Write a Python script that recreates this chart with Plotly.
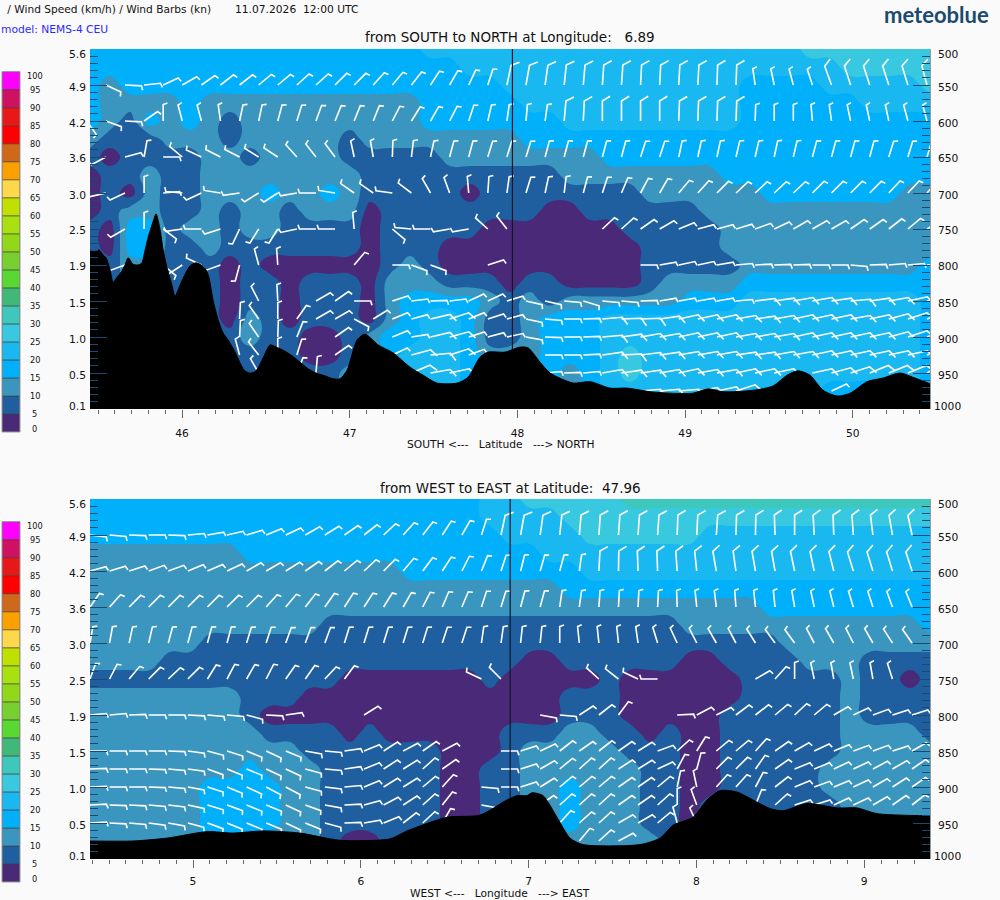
import numpy as np
import plotly.graph_objects as go

N = None

# ---- scale ----
speed_levels = list(range(0, 100, 5))
speed_colors = ["#4a2a78", "#1f5f9f", "#3a96be", "#00b0fa", "#1ab8f0", "#38c8e0", "#3ec8bc",
                "#40b878", "#58d830", "#78d030", "#90d818", "#a8e010", "#c0e000", "#fcd84a",
                "#fca000", "#d0681a", "#ff0000", "#e81818", "#d01060", "#ff00ff"]
scale_labels = list(range(0, 105, 5))
hpa_labels = list(range(500, 1050, 50))
km_labels = ["5.6", "4.9", "4.2", "3.6", "3.0", "2.5", "1.9", "1.5", "1.0", "0.5", "0.1"]

# ---- wind speed bands (5 km/h classes), one string per 25 hPa from 500 to 1000 ----
bands_ns = [
    "3333333333 3333333444 4444444444 4444445555 555",
    "3333333333 3333333334 4444444444 4444444455 555",
    "3233333333 3333333333 3444444444 4443333444 445",
    "3222232222 2222222333 3344444444 4443333334 444",
    "3213232122 2222222333 3333444444 4443333333 333",
    "2111222122 2221222222 2233333333 3333333333 333",
    "1011112212 2221111122 2222223333 3333333333 333",
    "0112112222 2222111111 1111222222 2233333333 333",
    "0102112223 2232111110 1111111122 2222333333 322",
    "0122112122 1222011111 1110011111 1222222222 222",
    "1033122122 1111011111 0000000111 1122222222 222",
    "1033112111 1111011100 0000000011 1122222222 222",
    "1122111010 0000012100 0000000011 1112222222 223",
    "1122111011 0111022211 1011000012 2223333333 333",
    "1122111011 0111023333 2121222222 3334444444 443",
    "1122111021 0111023443 1123334444 4444444444 443",
    "1122111121 1001233443 1123334444 4444444444 443",
    "1122111111 1001234443 2223334544 4444444444 443",
    "1122111111 1112344443 3333234544 4444444444 443",
    "1122111111 1112344443 3333234444 4444444333 443",
    "1122111111 1112344443 3333234444 4444444333 443",
]
bands_we = [
    "3333333333 3333333333 4455555666 6666666666 666",
    "3333333333 3333333333 4444555555 5555555555 555",
    "3333333333 3333333333 3444455555 5444444444 444",
    "2222222233 3333333333 3334444444 4444444444 444",
    "2222222222 2222223333 3333344444 4444444444 444",
    "2222222222 2222222222 2222333333 3333333333 333",
    "2222222222 2222222222 2222222222 2222333333 333",
    "2222222222 2211111111 1111111111 2222222222 223",
    "2222221111 1111111111 1111111111 1111122222 222",
    "2222111111 1111111111 1100111111 0011112221 111",
    "1111111111 1110000000 1000001000 0001111121 101",
    "2222222211 1000000000 0000111000 0001111121 111",
    "2222222210 0000000000 0000111000 0011111121 111",
    "2222222221 1110100000 0111221101 0011111122 221",
    "2222222222 2111111100 0122222111 0011111122 222",
    "2222222232 2211111100 1122222211 0011111222 222",
    "2222223333 2211111100 1122322211 0011111222 222",
    "2222223333 2211111100 1122322211 0111111122 222",
    "2222223333 2211111100 1122322211 0111111122 222",
    "2222223332 2210010100 1122222221 1111111122 222",
    "2222223332 2210010100 1122222221 1111111122 222",
]

# ---- terrain surface along each section ----
terrain_lat = [45.451, 45.475, 45.505, 45.529, 45.547, 45.571, 45.589, 45.612, 45.636, 45.660, 45.678,
               45.708, 45.738, 45.761, 45.773, 45.797, 45.827, 45.845, 45.869, 45.887, 45.911, 45.940,
               45.958, 45.988, 46.024, 46.048, 46.083, 46.107, 46.143, 46.161, 46.185, 46.215, 46.244,
               46.274, 46.310, 46.346, 46.370, 46.400, 46.429, 46.453, 46.483, 46.525, 46.561, 46.608,
               46.656, 46.704, 46.751, 46.799, 46.853, 46.900, 46.942, 46.984, 47.044, 47.091, 47.169,
               47.258, 47.360, 47.437, 47.521, 47.640, 47.705, 47.777, 47.825, 47.926, 48.016, 48.063,
               48.135, 48.195, 48.332, 48.433, 48.552, 48.654, 48.791, 48.910, 49.047, 49.137, 49.226,
               49.405, 49.524, 49.608, 49.673, 49.745, 49.822, 49.906, 49.984, 50.085, 50.180, 50.281,
               50.359, 50.460]
terrain_lat_hpa = [779, 782, 779, 786, 790, 807, 824, 817, 810, 800, 790,
                   799, 800, 797, 786, 762, 740, 729, 751, 779, 804, 828,
                   843, 828, 810, 801, 797, 799, 807, 818, 849, 876, 894,
                   904, 918, 936, 946, 950, 949, 943, 929, 911, 914, 919,
                   926, 935, 944, 950, 954, 958, 958, 946, 904, 896, 911,
                   922, 942, 953, 964, 964, 956, 928, 921, 921, 914, 915,
                   935, 950, 964, 962, 971, 971, 976, 978, 978, 972, 976,
                   974, 968, 953, 947, 953, 974, 982, 978, 962, 957, 950,
                   956, 965]
terrain_lon = [4.386, 4.642, 4.845, 5.083, 5.238, 5.417, 5.638, 5.876, 6.174, 6.275, 6.514, 6.710,
               6.871, 6.931, 6.990, 7.020, 7.086, 7.169, 7.247, 7.324, 7.664, 7.783, 7.861, 7.980,
               8.063, 8.141, 8.242, 8.337, 8.439, 8.516, 8.659, 8.838, 8.957, 9.076, 9.392]
terrain_lon_hpa = [975, 975, 971, 962, 964, 961, 964, 974, 972, 961, 942, 939,
                   918, 912, 912, 908, 912, 942, 971, 980, 980, 971, 953, 942,
                   918, 905, 907, 918, 930, 933, 923, 929, 929, 937, 940]

# ---- wind direction per column: degrees clockwise from north along the staff ----
barb_levels = [550, 600, 650, 700, 750, 800, 850, 875, 900, 925, 950, 975]

ns_550 = [N,115,93,84,65,60,55,52,52,50,50,48,48,45, 45,42,40,38,33,30,25,18,12,10,8,6,5,4,4,3,3,
          3,3,2,2,-8,-12,-15,-18,-20,-18,-18,-18,-17,-15]
ns_600 = [145,110,93,55,0,-15,-15,-8,12,12,15,17,20,22, 22,22,27,32,30,27,18,13,8,5,8,5,3,0,0,0,0,
          2,2,2,2,2,0,0,-5,-8,-12,-12,-12,-15,-15]
ns_650 = [N,-118,75,10,90,-50,-65,-63,-63,-58,-57,-42,-38,-37, -12,-10,2,7,12,15,15,17,17,17,15,15,15,15,15,18,18,
          12,12,12,13,13,12,13,15,15,15,15,17,17,17]
ns_700 = [N,-103,-115,0,85,-85,-115,-81,-98,-122,-123,-100,-90,-81, -55,-55,-82,-53,-30,-20,-5,4,8,17,12,7,15,18,23,28,30,
          40,42,45,47,47,47,47,45,45,45,45,43,43,42]
ns_750 = [N,N,-120,0,127,-98,-90,-108,205,212,212,-102,-90,-90, -5,N,130,-85,-90,-100,-100,-48,-38,N,N,N,N,47,48,55,60,
          68,75,75,73,70,65,60,60,60,55,55,52,50,60]
ns_800 = [N,N,-110,N,130,-123,-65,-110,195,-15,-4,N,N,N, 40,N,90,110,110,N,N,72,N,N,N,N,N,N,N,90,80,
          78,78,80,85,87,88,88,90,90,95,88,85,85,85]
ns_850 = [N,N,N,N,N,N,N,N,N,-27,-3,N,60,55, 90,N,72,83,88,83,65,65,73,103,103,95,107,95,95,88,80,
          80,80,80,85,83,82,80,80,82,85,82,80,78,75]
ns_875 = [N,N,N,N,N,N,N,N,3,-35,0,35,60,60, 118,58,68,75,77,72,68,72,75,102,95,90,88,85,88,88,82,
          78,78,78,80,82,80,78,78,78,80,78,75,72,70]
ns_900 = [N,N,N,N,N,N,N,N,3,-35,2,22,N,55, N,N,68,81,77,75,72,75,78,100,92,90,88,85,82,80,80,
          78,78,78,80,80,80,78,78,78,78,78,75,72,70]
ns_925 = [N,N,N,N,N,N,N,N,-15,-38,0,17,N,55, N,N,65,75,85,72,70,N,N,N,90,90,87,82,87,83,82,
          80,80,80,82,82,80,80,78,78,78,78,78,78,72]
ns_950 = [N,N,N,N,N,N,N,N,N,-30,N,22,5,N, N,N,N,67,80,78,N,N,N,N,85,88,85,80,82,82,80,
          78,80,80,78,78,78,N,78,75,72,68,68,68,60]
ns_975 = [N,N,N,N,N,N,N,N,N,N,N,N,N,N, N,N,N,N,N,N,N,N,N,N,N,N,N,N,N,85,85,
          85,80,78,72,N,N,N,N,65,N,N,N,N,N]
ns_dirs = [ns_550, ns_600, ns_650, ns_700, ns_750, ns_800, ns_850, ns_875, ns_900, ns_925, ns_950, ns_975]

we_550 = [97,95,92,90,92,85,80,77,73,68,65,60,58, 55,52,47,42,38,33,30,18,12,10,8,6,5,4,4,4,4,
          2,3,4,2,1,-2,0,-3,-2,-4,-7,-10,-12]
we_600 = [75,73,72,70,70,68,67,65,60,60,58,55,52, 50,47,45,40,37,33,27,22,18,14,16,15,8,3,1,-2,-2,
          -4,-6,-10,-8,-10,-10,-12,-12,-14,-17,-17,-17,-18]
we_650 = [35,42,45,45,45,45,45,45,45,42,40,38,35, 33,33,32,30,27,23,23,18,17,15,15,8,8,4,3,3,3,
          -2,-6,-7,-4,-6,-6,-10,-12,-14,-17,-18,-20,-22]
we_700 = [10,10,12,13,15,15,15,15,17,18,20,20,20, 17,17,17,17,17,18,18,8,8,6,6,0,-6,-6,-6,-8,-17,
          -25,-27,-30,-28,-32,-36,-36,-28,-30,-27,-30,-33,-35]
we_750 = [20,27,40,45,47,45,32,28,30,27,35,35,43, 37,N,N,N,N,N,N,-65,-45,N,N,N,N,-48,-52,-65,-90,
          N,N,N,N,60,42,0,-12,-10,-12,-10,-18,N]
we_800 = [85,85,88,90,90,93,95,95,105,93,82,N,N, N,58,N,N,N,N,N,N,N,N,100,95,57,52,37,N,N,
          87,62,63,53,52,50,47,50,60,65,70,72,72]
we_850 = [90,90,90,90,92,98,105,108,112,115,112,100,95, 82,68,57,62,55,62,N,N,90,72,65,52,55,52,55,58,70,
          48,32,50,50,42,55,60,65,68,70,70,72,60]
we_875 = [88,90,90,92,95,98,110,112,112,115,115,105,95, 82,68,57,58,48,55,N,N,90,72,60,50,48,48,57,58,65,
          28,15,45,45,35,55,68,68,65,65,62,60,55]
we_900 = [88,90,90,92,95,100,108,112,115,118,118,105,97, 85,68,58,58,50,42,N,95,90,72,58,50,50,50,55,55,50,
          12,-12,42,42,28,52,68,70,68,65,60,57,55]
we_925 = [87,92,93,95,97,102,107,110,112,112,115,110,100, 87,75,62,57,48,38,N,100,N,N,55,48,48,48,55,55,48,
          0,-20,N,N,22,48,72,72,65,65,60,55,52]
we_950 = [87,93,95,98,100,105,110,112,112,112,115,112,105, 88,80,68,52,47,30,N,N,N,N,N,42,48,48,60,60,50,
          -15,-25,N,N,N,N,N,N,N,N,N,N,N]
we_975 = [N,N,N,N,N,N,N,N,N,N,N,N,N, N,N,N,N,N,N,N,N,N,N,N,N,40,48,62,N,N,
          N,N,N,N,N,N,N,N,N,N,N,N,N]
we_dirs = [we_550, we_600, we_650, we_700, we_750, we_800, we_850, we_875, we_900, we_925, we_950, we_975]

# ---- section geometry ----
lat_range = [45.451, 50.46]
lon_range = [4.386, 9.392]
hpa_range = [1000, 500]
lat_barbs = np.linspace(45.432, 50.442, 45)
lon_barbs = np.linspace(4.386, 9.285, 43)
lat_section_lon = 47.97
lon_section_lat = 6.89
PLOT_W, PLOT_H = 840.0, 360.0


def speed_grid(rows):
    digits = [r.replace(" ", "") for r in rows]
    return np.array([[5 * int(c) + 2.5 for c in r] for r in digits])


def barb_paths(columns, dirs, grid, xr, grid_x):
    """White barb staffs with one feather at the far end, sized in screen pixels."""
    kx = PLOT_W / (xr[1] - xr[0])
    kp = PLOT_H / 500.0
    xs, ys = [], []
    for level, row in zip(barb_levels, dirs):
        j = int(round((level - 500) / 25))
        for x0, ang in zip(columns, row):
            if ang is None:
                continue
            i = int(np.argmin(np.abs(grid_x - x0)))
            fast = grid[j, i] >= 20
            staff, feather, turn = (20, 9, 58) if fast else (16.5, 4.5, 72)
            t = np.radians(ang)
            tx, ty = x0 + staff * np.sin(t) / kx, level - staff * np.cos(t) / kp
            f = np.radians(ang + turn)
            fx, fy = tx + feather * np.sin(f) / kx, ty - feather * np.cos(f) / kp
            xs += [x0, tx, fx, None]
            ys += [level, ty, fy, None]
    return xs, ys


colorscale = []
for n, c in enumerate(speed_colors):
    colorscale += [[n / 20, c], [(n + 1) / 20, c]]

fig = go.Figure()
hpa_grid = np.arange(500, 1025, 25)


def add_section(xa, ya, rows, dirs, columns, xr, tx, tp, cut):
    grid = speed_grid(rows)
    gx = np.linspace(xr[0], xr[1], grid.shape[1])
    fig.add_trace(go.Contour(x=gx, y=hpa_grid, z=grid, xaxis=xa, yaxis=ya, colorscale=colorscale,
                             zmin=0, zmax=100, showscale=False, hoverinfo="skip",
                             contours=dict(start=0, end=100, size=5, coloring="fill", showlines=False),
                             line=dict(width=0, smoothing=1.3)))
    bx, by = barb_paths(columns, dirs, grid, xr, gx)
    fig.add_trace(go.Scatter(x=bx, y=by, xaxis=xa, yaxis=ya, mode="lines", hoverinfo="skip",
                             line=dict(color="white", width=1.6)))
    fig.add_trace(go.Scatter(x=[cut, cut], y=[500, 1000], xaxis=xa, yaxis=ya, mode="lines",
                             hoverinfo="skip", line=dict(color="#101828", width=1.2)))
    fig.add_trace(go.Scatter(x=[tx[0], tx[-1]], y=[1000, 1000], xaxis=xa, yaxis=ya, mode="lines",
                             hoverinfo="skip", line=dict(color="black", width=0)))
    fig.add_trace(go.Scatter(x=tx, y=tp, xaxis=xa, yaxis=ya, mode="lines", fill="tonexty",
                             fillcolor="black", hoverinfo="skip",
                             line=dict(color="black", width=1, shape="spline", smoothing=0.7)))


def add_scale(xa, ya):
    fig.add_trace(go.Bar(x=[0] * 20, y=[5] * 20, base=speed_levels, width=1, xaxis=xa, yaxis=ya,
                         marker=dict(color=speed_colors, line=dict(color="#3c3c3c", width=0.6)),
                         hoverinfo="skip"))


add_section("x", "y", bands_ns, ns_dirs, lat_barbs, lat_range, terrain_lat, terrain_lat_hpa, lat_section_lon)
add_section("x2", "y2", bands_we, we_dirs, lon_barbs, lon_range, terrain_lon, terrain_lon_hpa, lon_section_lat)
add_scale("x3", "y3")
add_scale("x4", "y4")


def px_x(px):
    return px / 1000.0


def px_y(py):
    return 1 - py / 900.0


TICK = "#1b4a70"
AX = "#666666"


def press_axis(top, anchor):
    return dict(domain=[px_y(top + 360), px_y(top)], range=hpa_range, anchor=anchor, showgrid=False,
                zeroline=False, showline=False, showticklabels=False, ticks="inside", ticklen=17,
                tickcolor=TICK, tickwidth=1, tickmode="array", tickvals=hpa_labels, mirror="ticks",
                minor=dict(ticks="inside", ticklen=8, tickcolor=TICK, tickwidth=1, dtick=10, tick0=500))


def dist_axis(rng, anchor, ticks, standoff):
    return dict(domain=[px_x(90), px_x(930)], range=rng, anchor=anchor, showgrid=False, zeroline=False,
                showline=False, tickmode="array", tickvals=ticks, ticks="outside", ticklen=8,
                tickcolor=AX, tickwidth=1, ticklabelstandoff=standoff,
                tickfont=dict(family="DejaVu Sans", size=10.7, color="#111111"),
                minor=dict(ticks="outside", ticklen=4, tickcolor=AX, tickwidth=1, dtick=0.1, tick0=0))


def scale_axes(top):
    xa = dict(domain=[px_x(2), px_x(20)], range=[-0.5, 0.5], anchor="y3", visible=False)
    ya = dict(domain=[px_y(top + 360.4), px_y(top)], range=[0, 100], showgrid=False, zeroline=False,
              showticklabels=False, ticks="", showline=False)
    return xa, ya


notes = []


def label(px, py, text, size, color="#111111", anchor="center", family="DejaVu Sans", **kw):
    notes.append(dict(xref="paper", yref="paper", x=px_x(px), y=px_y(py), text=text, showarrow=False,
                      xanchor=anchor, yanchor="middle", font=dict(family=family, size=size, color=color),
                      borderpad=0, borderwidth=0, **kw))


NB = "\u00a0"
label(4, 9, f"{NB}/ Wind Speed (km/h) / Wind Barbs (kn)", 10.6, anchor="left")
label(235, 9, f"11.07.2026{NB}{NB}12:00 UTC", 10.7, anchor="left")
label(1, 29.5, "model: NEMS-4 CEU", 10.7, color="#2a2aff", anchor="left")
label(936.5, 14.5, "<b>meteoblue</b>", 22, color="#1c4a6e", family="Lato", anchor="center")
label(510, 37.5, f"from SOUTH to NORTH at Longitude:{NB}{NB}{NB}6.89", 13.5)
label(510, 488, f"from WEST to EAST at Latitude:{NB}{NB}47.96", 13.5)
label(500, 444.5, f"SOUTH <---{NB}{NB}{NB}Latitude{NB}{NB}{NB}---> NORTH", 10.7)
label(500, 893.5, f"WEST <---{NB}{NB}{NB}Longitude{NB}{NB}{NB}---> EAST", 10.7)

for top in (49, 499):
    for hpa, km in zip(hpa_labels, km_labels):
        py = top + 0.72 * (hpa - 500) + 2
        if hpa == 500:
            py += 3
        if hpa == 1000:
            py -= 5
        label(86, py, km, 10.7, anchor="right")
        label(934 if hpa == 1000 else 938, py, str(hpa), 10.7, anchor="left")

for base in (432, 882):
    for v in scale_labels:
        py = base - 3.6 * v
        if v == 0:
            py -= 3
        if v == 100:
            py += 4
        label(34.5, py, str(v), 8.2)

xs3, ys3 = scale_axes(71.6)
xs4, ys4 = scale_axes(521.6)
xs4["anchor"] = "y4"
ys3["anchor"] = "x3"
ys4["anchor"] = "x4"

shapes = [dict(type="line", xref="paper", yref="paper", x0=px_x(930.5), x1=px_x(930.5),
               y0=px_y(t), y1=px_y(t + 360), line=dict(color="#9a9a9a", width=1)) for t in (49, 499)]
shapes += [dict(type="rect", xref="paper", yref="paper", x0=px_x(2), x1=px_x(20), y0=px_y(t),
                y1=px_y(t + 360.4), line=dict(color="#9a9a9a", width=1)) for t in (71.6, 521.6)]

fig.update_layout(
    width=1000, height=900, autosize=False, margin=dict(l=0, r=0, t=0, b=0),
    paper_bgcolor="#fafafa", plot_bgcolor="#fafafa", showlegend=False,
    xaxis=dist_axis(lat_range, "y", [46, 47, 48, 49, 50], 6),
    xaxis2=dist_axis(lon_range, "y2", [5, 6, 7, 8, 9], 4),
    yaxis=press_axis(49, "x"),
    yaxis2=press_axis(499, "x2"),
    xaxis3=xs3, yaxis3=ys3, xaxis4=xs4, yaxis4=ys4,
    annotations=notes, shapes=shapes,
)

fig.write_html("out.html")
